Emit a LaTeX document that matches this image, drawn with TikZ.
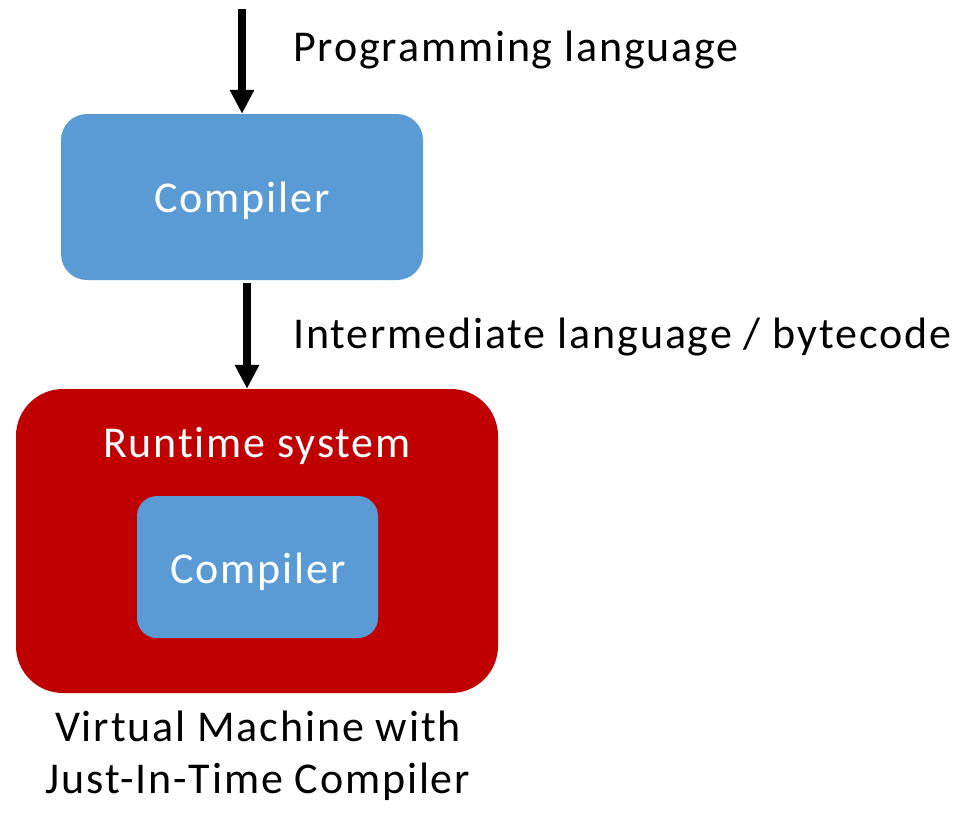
\documentclass[tikz,border=0pt]{standalone}
\usepackage{fontspec}
\setmainfont{Carlito}[LetterSpace=4.2, Ligatures=NoCommon]
\usetikzlibrary{arrows.meta}
\definecolor{boxblue}{HTML}{5B9BD5}
\definecolor{boxred}{HTML}{C00000}
\tikzset{
  bluebox/.style={fill=boxblue, draw=none, inner sep=0pt},
  redbox/.style={fill=boxred, draw=none, inner sep=0pt},
  flow/.style={line width=8pt, -{Triangle[width=23pt,length=24pt]}},
  boxtext/.style={text=white, anchor=base, inner sep=0pt, font=\fontsize{44pt}{52pt}\selectfont},
  plaintext/.style={text=black, inner sep=0pt, font=\fontsize{44pt}{52pt}\selectfont},
}
\begin{document}
\begin{tikzpicture}[x=1pt,y=-1pt]
  \useasboundingbox (0,0) rectangle (965,812);

  % front-end compiler
  \node[bluebox, rounded corners=26pt, minimum width=362pt, minimum height=166pt] (comp1) at (242,197) {};
  \node[boxtext] (comp1txt) at (242,212) {Compiler};

  % virtual machine with its JIT compiler
  \node[redbox, rounded corners=47pt, minimum width=482pt, minimum height=304pt] (vm) at (257,541) {};
  \node[boxtext] (vmtxt) at (257,457) {Runtime system};
  \node[bluebox, rounded corners=20pt, minimum width=241pt, minimum height=142pt] (jit) at (257.5,567) {};
  \node[boxtext] (jittxt) at (258,583) {Compiler};

  % input and intermediate arrows
  \coordinate (src) at (242,9);
  \draw[flow] (src) -- (comp1.north);
  \draw[flow] ([shift={(5,3)}]comp1.south) -- ([xshift=-10pt]vm.north);

  % labels
  \node[plaintext, anchor=base west] (srclbl) at (293,61) {Programming language};
  \node[plaintext, anchor=base west] (irlbl) at (293,348) {Intermediate language / bytecode};
  \node[plaintext, anchor=base] (cap1) at (258,741) {Virtual Machine with};
  \node[plaintext, anchor=base] (cap2) at (258,793) {Just-In-Time Compiler};
\end{tikzpicture}
\end{document}
